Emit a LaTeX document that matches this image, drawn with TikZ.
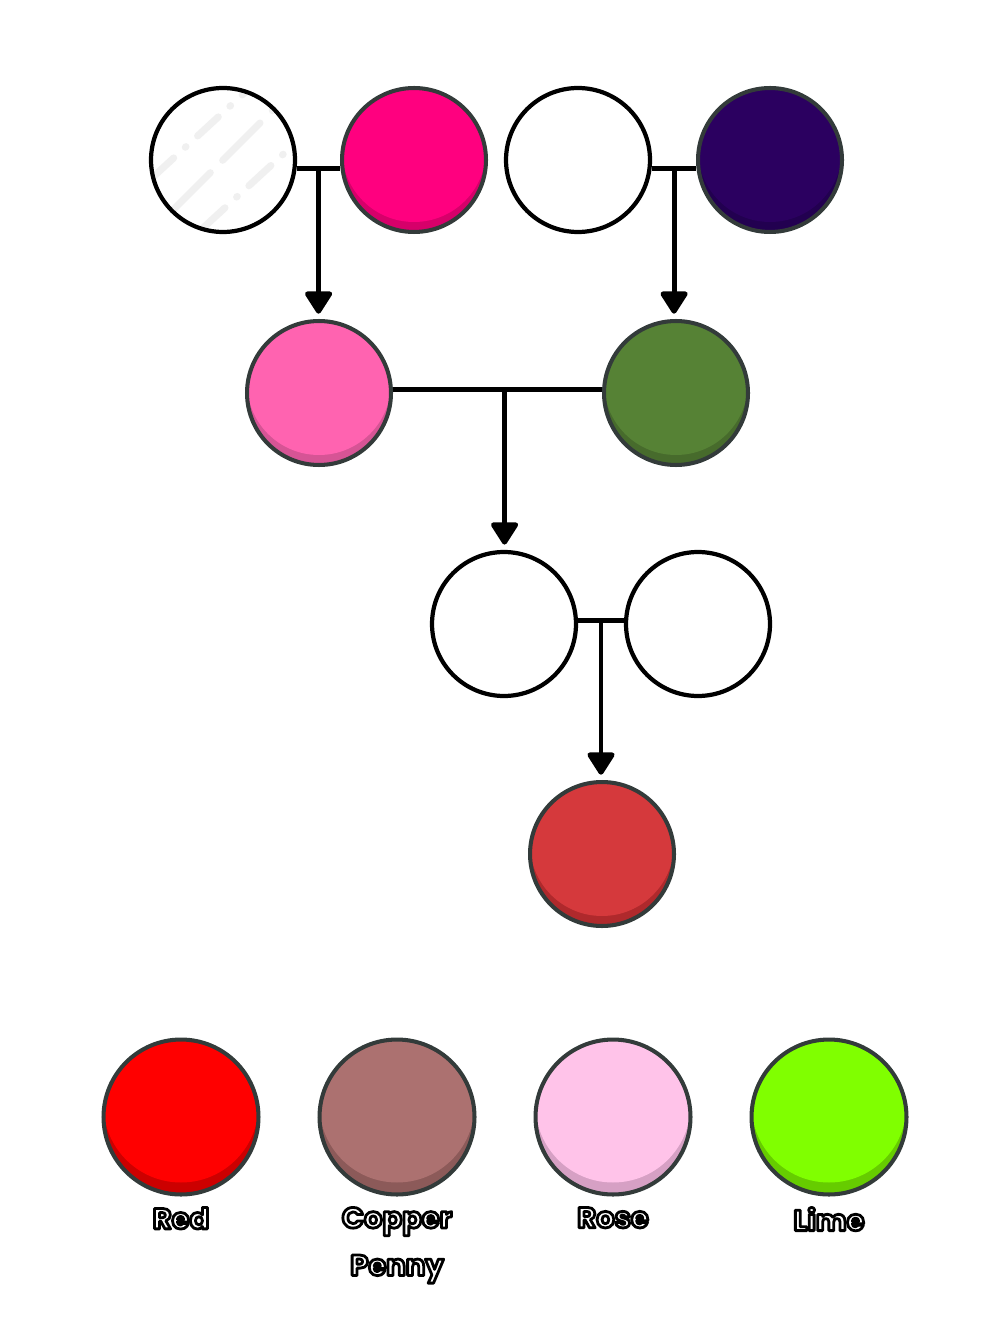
\documentclass[tikz,border=0pt]{standalone}
\usepackage{fontspec}
\usetikzlibrary{arrows.meta,positioning}
\newfontfamily\tagfont{Poppins}
\newcommand\tagtext[1]{\special{pdf:literal direct 2 Tr 1.6 w 1 j 0 0 0 RG}#1\special{pdf:literal direct 0 Tr}}
\definecolor{rim}{HTML}{333B3A}
\definecolor{glint}{HTML}{F0F0F0}
\definecolor{hotpink}{HTML}{FF007F}
\definecolor{hotpinkdk}{HTML}{D6006A}
\definecolor{indigo}{HTML}{2B0060}
\definecolor{indigodk}{HTML}{220050}
\definecolor{candy}{HTML}{FF63B0}
\definecolor{candydk}{HTML}{D65495}
\definecolor{moss}{HTML}{568235}
\definecolor{mossdk}{HTML}{476B2C}
\definecolor{cherry}{HTML}{D5393C}
\definecolor{cherrydk}{HTML}{AF292C}
\definecolor{ruby}{HTML}{FF0000}
\definecolor{rubydk}{HTML}{CC0000}
\definecolor{copperpenny}{HTML}{AC7170}
\definecolor{copperpennydk}{HTML}{8C5A59}
\definecolor{rosepink}{HTML}{FFC3E9}
\definecolor{rosepinkdk}{HTML}{D6A0C4}
\definecolor{limeg}{HTML}{80FF00}
\definecolor{limegdk}{HTML}{66CC00}
\tikzset{
  ball/.style n args={4}{circle, inner sep=0pt, minimum size=2*#3, draw=rim,
    line width=2.3pt, fill=#2,
    path picture={\fill[#1] ([yshift=#4]path picture bounding box.center) circle (#3);}},
  bead/.style 2 args={ball={#1}{#2}{1.44cm}{0.2cm}},
  swatch/.style 2 args={ball={#1}{#2}{1.55cm}{0.24cm}},
  plain/.style={circle, inner sep=0pt, minimum size=2.88cm, draw=black,
    line width=2.4pt, fill=white},
  glass/.style={plain, path picture={
    \draw[glint, line width=4pt, line cap=round, dash pattern=on 16pt off 9pt on 0.5pt off 9pt]
      ([shift={(-70,17)}]path picture bounding box.center) -- ++(100,-92);
    \draw[glint, line width=4pt, line cap=round, dash pattern=on 30pt off 10pt]
      ([shift={(-50,50)}]path picture bounding box.center) -- ++(110,-110);
    \draw[glint, line width=4pt, line cap=round, dash pattern=on 17pt off 9pt on 0.5pt off 9pt]
      ([shift={(-20,68)}]path picture bounding box.center) -- ++(100,-92);}},
  link/.style={line width=2.8pt},
  drop/.style={link, -{Triangle[width=17pt,length=14pt,round]}, shorten >=3pt},
  tag/.style={font=\tagfont\bfseries\fontsize{16.5}{27}\selectfont, text=white,
    align=center, inner sep=0pt}
}
\begin{document}
\begin{tikzpicture}[x=0.02cm, y=-0.02cm]
  \useasboundingbox (0,0) rectangle (1000,1334);

  % parents
  \node[glass] (p1) at (223,160) {};
  \node[bead={hotpink}{hotpinkdk}] (p2) at (414,160) {};
  \node[plain] (p3) at (578,160) {};
  \node[bead={indigo}{indigodk}] (p4) at (770,160) {};

  % children
  \node[bead={candy}{candydk}] (c1) at (319,393) {};
  \node[bead={moss}{mossdk}] (c2) at (676,393) {};

  \node[plain] (g1) at (504,624) {};
  \node[plain] (g2) at (698,624) {};
  \node[bead={cherry}{cherrydk}] (kid) at (602,854) {};

  \draw[link] ([yshift=-5]p1.east) -- coordinate (m1) ([yshift=-5]p2.west);
  \draw[link] ([yshift=-5]p3.east) -- coordinate (m2) ([yshift=-5]p4.west);
  \draw[link] ([yshift=2]c1.east) -- coordinate (m3) ([yshift=2]c2.west);
  \draw[link] ([yshift=2]g1.east) -- coordinate (m4) ([yshift=2]g2.west);
  \draw[drop] (m1) -- (m1 |- c1.north);
  \draw[drop] (m2) -- (m2 |- c2.north);
  \draw[drop] ([xshift=4]m3) -- ([xshift=4]m3 |- g1.north);
  \draw[drop] (m4) -- (m4 |- kid.north);

  % swatches
  \foreach \hue/\sx/\txt in {ruby/181/{\tagtext{Red}},
      copperpenny/397/{\tagtext{Copper}\\\tagtext{Penny}},
      rosepink/613/{\tagtext{Rose}}, limeg/829/{\tagtext{Lime}}} {
    \node[swatch={\hue}{\hue dk}] (sw-\hue) at (\sx,1117) {};
    \node[tag, below=6pt of sw-\hue] (tag-\hue) {\txt};
  }
\end{tikzpicture}
\end{document}
